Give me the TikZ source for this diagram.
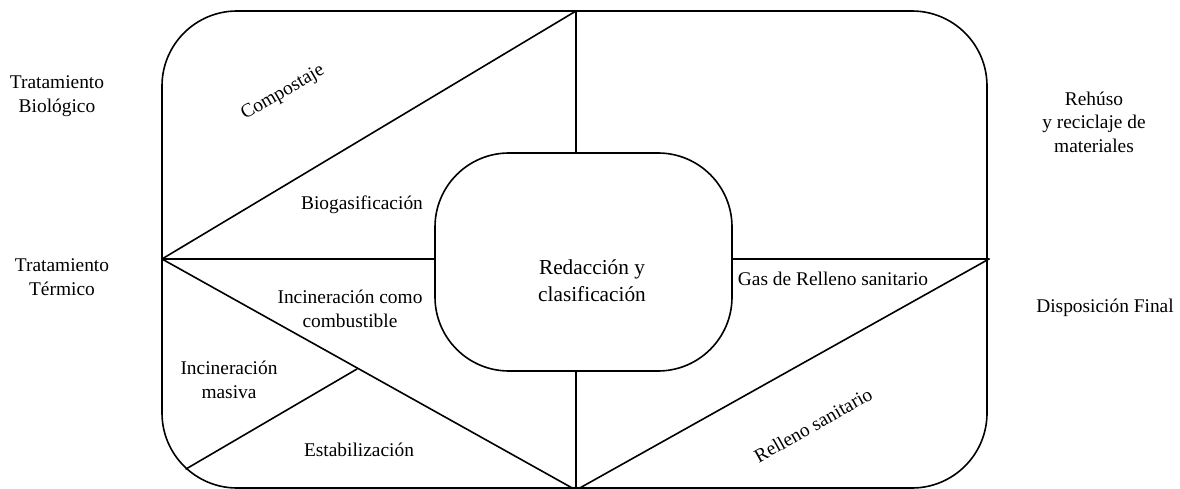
\documentclass[tikz,border=0pt]{standalone}
\usepackage{fontspec}
\setmainfont{Liberation Serif}
\tikzset{
  ln/.style={line width=1.6pt, line cap=round},
  lbl/.style={inner sep=0pt, align=center, font=\fontsize{19.4}{23.5}\selectfont},
  big/.style={inner sep=0pt, align=center, font=\fontsize{21.3}{27}\selectfont}
}
\begin{document}
\begin{tikzpicture}[x=1pt,y=-1pt]
\useasboundingbox (0,0) rectangle (1180,489);
% outer and inner boxes
\draw[ln, rounded corners=75pt] (162,11) rectangle (987,488);
\node[draw, line width=1.6pt, rounded corners=74pt, minimum width=297pt, minimum height=218pt, inner sep=0pt] (core) at (583.5,262) {};
\node[big] (redac) at (592,281) {Redacción y\\clasificación};
% key points
\coordinate (L) at (162,259);
\coordinate (T) at (576,11);
\coordinate (Tin) at (576,153);
\coordinate (Lin) at (435,259);
\coordinate (B) at (574,489);
\coordinate (Bv) at (576,489);
\coordinate (Bin) at (576,371);
\coordinate (Rin) at (732,259);
\coordinate (R) at (989,259);
\coordinate (BR) at (578,489);
\coordinate (M1) at (186,469);
\coordinate (M2) at (357,369);
% dividing lines
\draw[ln] (L) -- (T);
\draw[ln] (T) -- (Tin);
\draw[ln] (L) -- (Lin);
\draw[ln] (L) -- (B);
\draw[ln] (M1) -- (M2);
\draw[ln] (Bin) -- (Bv);
\draw[ln] (Rin) -- (R);
\draw[ln] (R) -- (BR);
% inner labels
\node[lbl, rotate=30] (comp) at (283,93) {Compostaje};
\node[lbl] (biog) at (362,205) {Biogasificación};
\node[lbl] (incc) at (350,309) {Incineración como\\combustible};
\node[lbl] (incm) at (229,380) {Incineración\\masiva};
\node[lbl] (esta) at (359,450) {Estabilización};
\node[lbl] (gas) at (833,279) {Gas de Relleno sanitario};
\node[lbl, rotate=29.5] (rell) at (813,425) {Relleno sanitario};
% outside labels
\node[lbl] (tbio) at (57,96) {Tratamiento\\Biológico};
\node[lbl] (tter) at (62,277) {Tratamiento\\Térmico};
\node[lbl] (reh) at (1094,122) {Rehúso\\y reciclaje de\\materiales};
\node[lbl] (disp) at (1105,308) {Disposición Final};
\end{tikzpicture}
\end{document}
